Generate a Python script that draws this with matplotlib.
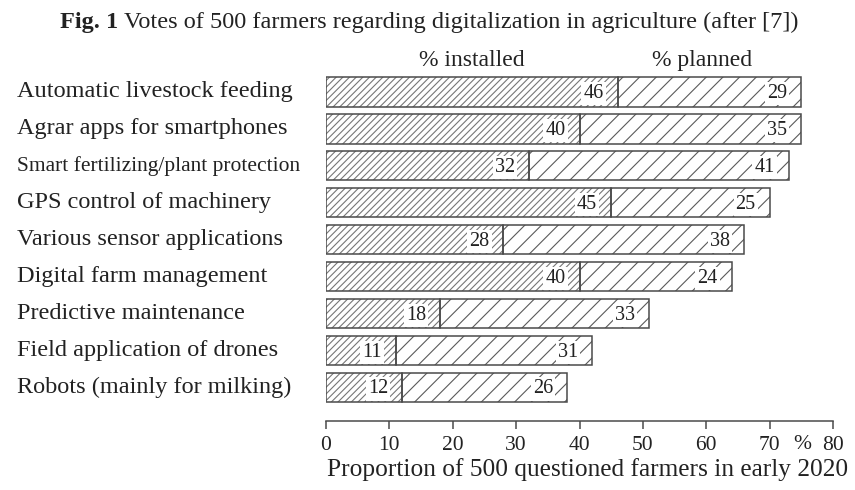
import matplotlib
matplotlib.use("Agg")
import matplotlib.pyplot as plt
import matplotlib.transforms as mtransforms
import numpy as np

plt.rcParams['font.family'] = ['Liberation Serif', 'DejaVu Serif']
plt.rcParams['hatch.linewidth'] = 0.8

# survey results, % of 500 farmers
categories = ["Automatic livestock feeding", "Agrar apps for smartphones",
              "Smart fertilizing/plant protection", "GPS control of machinery",
              "Various sensor applications", "Digital farm management",
              "Predictive maintenance", "Field application of drones",
              "Robots (mainly for milking)"]
installed = [46, 40, 32, 45, 28, 40, 18, 11, 12]
planned = [29, 35, 41, 25, 38, 24, 33, 31, 26]
xticks = [0, 10, 20, 30, 40, 50, 60, 70, 80]

W, H = 855, 490
txt = '#222222'
fig = plt.figure(figsize=(W / 100, H / 100), dpi=100)
ax = fig.add_axes([326 / W, 1 - 421 / H, (833 - 326) / W, (421 - 60) / H])

y = np.arange(len(categories))
inst = np.array(installed)
plan = np.array(planned)
bh = 0.79
edge = '#4a4a4a'

# hatched fills, then outlines on top
ax.barh(y, inst, height=bh, color='white', edgecolor='#777777', hatch='/////', linewidth=0)
ax.barh(y, plan, left=inst, height=bh, color='white', edgecolor='#5a5a5a', hatch='//', linewidth=0)
ax.barh(y, inst, height=bh, fill=False, edgecolor=edge, linewidth=1.1)
ax.barh(y, plan, left=inst, height=bh, fill=False, edgecolor=edge, linewidth=1.1)

box = dict(facecolor='white', edgecolor='none', pad=1.5)
for i in range(len(categories)):
    ax.text(inst[i] - 2.2, y[i] + 0.04, str(installed[i]), ha='right', va='center',
            fontsize=14.5, color=txt, bbox=box)
    ax.text(inst[i] + plan[i] - 2.2, y[i] + 0.04, str(planned[i]), ha='right', va='center',
            fontsize=14.5, color=txt, bbox=box)

ax.set_xlim(0, 80)
ax.set_ylim((421 - 92) / 36.94, (60 - 92) / 36.94)
ax.set_yticks([])
ax.set_xticks(xticks)
ax.set_xticklabels([str(t) for t in xticks], fontsize=15.5, color=txt)
ax.tick_params(axis='x', length=6, width=1.1, color=edge, pad=5)
for s in ['top', 'left', 'right']:
    ax.spines[s].set_visible(False)
ax.spines['bottom'].set_color(edge)
ax.spines['bottom'].set_linewidth(1.1)

# percent sign between the last two tick labels
pct = mtransforms.blended_transform_factory(ax.transData, fig.transFigure)
ax.text(75.2, 1 - 444 / H, "%", transform=pct, ha='center', va='center',
        fontsize=15.5, color=txt)

fig.text(588 / W, 1 - 476 / H, "Proportion of 500 questioned farmers in early 2020",
         ha='center', va='baseline', fontsize=18.3, color=txt)

# category names, left aligned
lab = mtransforms.blended_transform_factory(fig.transFigure, ax.transData)
for i, c in enumerate(categories):
    fs = 15.5 if len(c) > 30 else 17.5
    ax.text(17 / W, y[i], c, transform=lab, ha='left', va='center', fontsize=fs,
            color=txt, clip_on=False)

fig.text(472 / W, 1 - 66 / H, "% installed", ha='center', va='baseline', fontsize=17, color=txt)
fig.text(702 / W, 1 - 66 / H, "% planned", ha='center', va='baseline', fontsize=17, color=txt)

# caption: bold figure number followed by the regular text
r = fig.canvas.get_renderer()
t1 = fig.text(60 / W, 1 - 28 / H, "Fig. 1", ha='left', va='baseline', fontsize=17.5,
              fontweight='bold', color=txt)
w1 = t1.get_window_extent(r).width
fig.text((60 + w1 + 6) / W, 1 - 28 / H,
         "Votes of 500 farmers regarding digitalization in agriculture (after [7])",
         ha='left', va='baseline', fontsize=17.5, color=txt)

fig.savefig("out.png", dpi=100)
